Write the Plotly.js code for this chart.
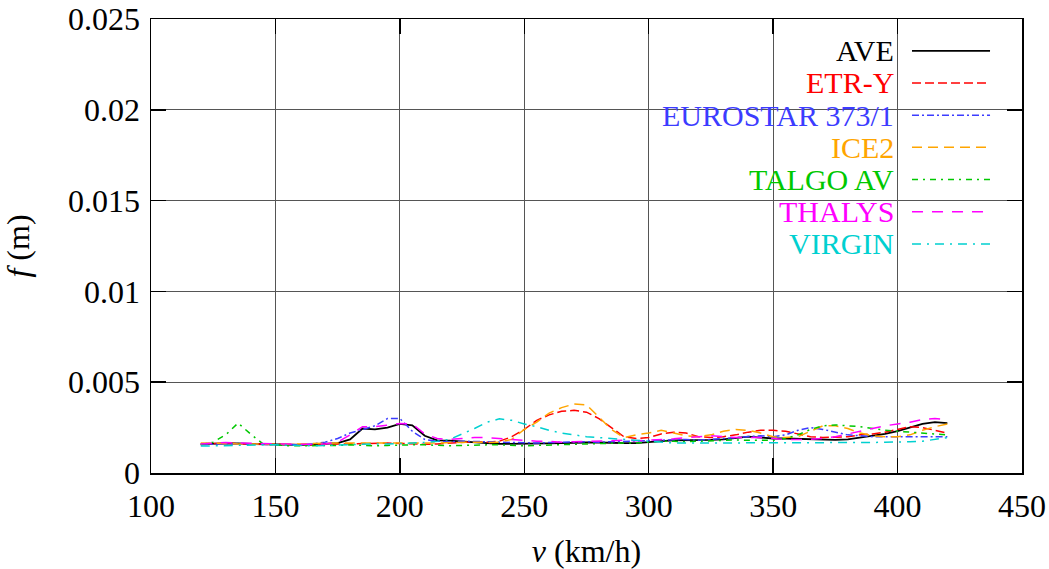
<!DOCTYPE html>
<html>
<head>
<meta charset="utf-8">
<script src="https://cdn.plot.ly/plotly-3.0.1.min.js"></script>
<style>
html,body{margin:0;padding:0;background:#fff;}
#chart{width:1049px;height:569px;}
</style>
</head>
<body>
<div id="chart"></div>
<script>
// speed values (km/h)
const speeds = [120,125,130,135,140,145,150,155,160,165,170,175,180,185,190,195,200,205,210,215,220,225,230,235,240,245,250,255,260,265,270,275,280,285,290,295,300,305,310,315,320,325,330,335,340,345,350,355,360,365,370,375,380,385,390,395,400,405,410,415,420];

const seriesNames = ["AVE","ETR-Y","EUROSTAR 373/1","ICE2","TALGO AV","THALYS","VIRGIN"];

const ave = [0.00160,0.00162,0.00165,0.00163,0.00160,0.00158,0.00158,0.00155,0.00155,0.00157,0.00160,0.00165,0.00185,0.00245,0.00240,0.00250,0.00270,0.00262,0.00205,0.00180,0.00178,0.00175,0.00170,0.00165,0.00160,0.00160,0.00160,0.00162,0.00163,0.00165,0.00168,0.00168,0.00168,0.00165,0.00165,0.00165,0.00168,0.00175,0.00180,0.00180,0.00180,0.00182,0.00185,0.00192,0.00200,0.00195,0.00190,0.00190,0.00188,0.00185,0.00183,0.00182,0.00185,0.00195,0.00205,0.00215,0.00230,0.00250,0.00270,0.00280,0.00275];

const etrY = [0.00160,0.00163,0.00165,0.00162,0.00158,0.00160,0.00158,0.00155,0.00155,0.00155,0.00158,0.00160,0.00162,0.00163,0.00165,0.00165,0.00163,0.00160,0.00158,0.00160,0.00165,0.00170,0.00172,0.00170,0.00175,0.00200,0.00240,0.00290,0.00320,0.00340,0.00345,0.00335,0.00300,0.00250,0.00200,0.00190,0.00195,0.00215,0.00225,0.00220,0.00200,0.00195,0.00200,0.00210,0.00225,0.00235,0.00235,0.00230,0.00215,0.00200,0.00195,0.00198,0.00200,0.00210,0.00215,0.00225,0.00240,0.00255,0.00250,0.00235,0.00220];

const eurostar = [0.00155,0.00160,0.00162,0.00160,0.00158,0.00158,0.00155,0.00155,0.00155,0.00160,0.00170,0.00190,0.00220,0.00240,0.00260,0.00300,0.00300,0.00230,0.00185,0.00175,0.00172,0.00175,0.00175,0.00172,0.00170,0.00168,0.00165,0.00165,0.00168,0.00170,0.00172,0.00172,0.00170,0.00172,0.00175,0.00180,0.00180,0.00180,0.00185,0.00185,0.00180,0.00185,0.00190,0.00195,0.00200,0.00205,0.00200,0.00210,0.00235,0.00250,0.00240,0.00225,0.00210,0.00205,0.00200,0.00200,0.00200,0.00200,0.00200,0.00200,0.00200];

const ice2 = [0.00165,0.00165,0.00163,0.00160,0.00162,0.00160,0.00158,0.00160,0.00160,0.00160,0.00162,0.00165,0.00165,0.00165,0.00163,0.00162,0.00162,0.00165,0.00165,0.00165,0.00168,0.00170,0.00170,0.00168,0.00170,0.00185,0.00240,0.00280,0.00330,0.00360,0.00380,0.00375,0.00310,0.00240,0.00195,0.00210,0.00220,0.00235,0.00220,0.00205,0.00200,0.00210,0.00230,0.00240,0.00235,0.00220,0.00200,0.00195,0.00200,0.00230,0.00260,0.00260,0.00245,0.00220,0.00205,0.00200,0.00200,0.00210,0.00235,0.00255,0.00270];

const talgo = [0.00155,0.00170,0.00210,0.00275,0.00215,0.00160,0.00155,0.00150,0.00150,0.00150,0.00150,0.00152,0.00155,0.00152,0.00150,0.00152,0.00155,0.00155,0.00155,0.00152,0.00150,0.00152,0.00155,0.00155,0.00155,0.00152,0.00150,0.00152,0.00155,0.00158,0.00160,0.00160,0.00162,0.00165,0.00165,0.00165,0.00170,0.00175,0.00175,0.00172,0.00175,0.00178,0.00180,0.00182,0.00180,0.00178,0.00180,0.00190,0.00210,0.00240,0.00260,0.00265,0.00260,0.00255,0.00245,0.00235,0.00230,0.00225,0.00220,0.00215,0.00210];

const thalys = [0.00160,0.00165,0.00168,0.00165,0.00162,0.00160,0.00160,0.00160,0.00158,0.00158,0.00160,0.00170,0.00210,0.00255,0.00255,0.00265,0.00272,0.00270,0.00215,0.00190,0.00185,0.00190,0.00195,0.00195,0.00190,0.00185,0.00180,0.00175,0.00175,0.00170,0.00172,0.00175,0.00178,0.00180,0.00180,0.00178,0.00180,0.00185,0.00188,0.00195,0.00200,0.00205,0.00200,0.00195,0.00195,0.00195,0.00190,0.00185,0.00185,0.00185,0.00190,0.00200,0.00215,0.00230,0.00245,0.00260,0.00270,0.00280,0.00295,0.00300,0.00295];

const virgin = [0.00148,0.00150,0.00152,0.00150,0.00152,0.00155,0.00155,0.00152,0.00150,0.00150,0.00152,0.00155,0.00158,0.00158,0.00160,0.00160,0.00162,0.00165,0.00168,0.00175,0.00185,0.00215,0.00245,0.00280,0.00298,0.00290,0.00270,0.00255,0.00235,0.00220,0.00210,0.00200,0.00195,0.00190,0.00185,0.00180,0.00175,0.00170,0.00165,0.00165,0.00165,0.00165,0.00165,0.00165,0.00165,0.00165,0.00165,0.00165,0.00165,0.00165,0.00165,0.00165,0.00165,0.00165,0.00168,0.00170,0.00170,0.00172,0.00175,0.00185,0.00195];

const xTickVals = [100,150,200,250,300,350,400,450];
const xTickText = ["100","150","200","250","300","350","400","450"];
const yTickVals = [0,0.005,0.01,0.015,0.02,0.025];
const yTickText = ["0","0.005","0.01","0.015","0.02","0.025"];

const allSeries = [ave, etrY, eurostar, ice2, talgo, thalys, virgin];
const colors = ["#000000","#ff0000","#3c3cff","#ffa500","#00c800","#ff00ff","#00d0d0"];
const dashes = ["solid","9px,4px","7px,3px,2px,3px","10px,6px","6px,5px,2px,5px","11px,9px","9px,6px,2px,6px"];
const widths = [1.8,1.5,1.5,1.5,1.5,1.5,1.5];

const FONT = "Liberation Serif, Times New Roman, serif";
const FS = 32;
const KEYFS = 30;

const traces = allSeries.map((ys, i) => ({
  type: "scatter",
  mode: "lines",
  x: speeds,
  y: ys,
  name: seriesNames[i],
  showlegend: false,
  line: {color: colors[i], width: widths[i], dash: dashes[i]},
  hoverinfo: "x+y+name"
}));

// key (legend) drawn at right: text right-aligned, sample line to the right
const keyTextX = 0.8542, keyLineX0 = 0.8737, keyLineX1 = 0.9633;
const keyTopY = 0.930, keyStep = 0.0709;

const annotations = seriesNames.map((n, i) => ({
  xref: "paper", yref: "paper",
  x: keyTextX, y: keyTopY - i * keyStep,
  xanchor: "right", yanchor: "middle",
  text: n, showarrow: false, borderpad: 0,
  font: {family: FONT, size: KEYFS, color: colors[i]}
}));

const shapes = [{
  type: "rect", xref: "paper", yref: "paper",
  x0: 0.6005, x1: 1, y0: 0.4736, y1: 1,
  fillcolor: "#ffffff", line: {width: 0}, layer: "between"
}].concat(seriesNames.map((n, i) => ({
  type: "line", xref: "paper", yref: "paper",
  x0: keyLineX0, x1: keyLineX1,
  y0: keyTopY - i * keyStep, y1: keyTopY - i * keyStep,
  line: {color: colors[i], width: widths[i], dash: dashes[i]},
  layer: "above"
})));

const layout = {
  width: 1049, height: 569,
  margin: {l: 151, r: 27, t: 19, b: 96},
  paper_bgcolor: "#ffffff",
  plot_bgcolor: "#ffffff",
  font: {family: FONT, size: FS, color: "#000"},
  showlegend: false,
  xaxis: {
    range: [100, 450],
    tickmode: "array", tickvals: xTickVals, ticktext: xTickText,
    ticks: "inside", ticklen: 15, tickwidth: 1.5, tickcolor: "#000",
    ticklabelstandoff: 4,
    showline: true, linecolor: "#000", linewidth: 1.5, mirror: "allticks",
    showgrid: true, gridcolor: "#555", gridwidth: 1,
    zeroline: false,
    tickfont: {family: FONT, size: FS, color: "#000"},
    title: {text: "<i>v</i> (km/h)", font: {family: FONT, size: FS, color: "#000"}, standoff: 16}
  },
  yaxis: {
    range: [0, 0.025],
    tickmode: "array", tickvals: yTickVals, ticktext: yTickText,
    ticks: "inside", ticklen: 15, tickwidth: 1.5, tickcolor: "#000",
    ticklabelstandoff: 3,
    showline: true, linecolor: "#000", linewidth: 1.5, mirror: "allticks",
    showgrid: true, gridcolor: "#555", gridwidth: 1,
    zeroline: false,
    tickfont: {family: FONT, size: FS, color: "#000"},
    title: {text: "<i>f</i> (m)", font: {family: FONT, size: FS, color: "#000"}, standoff: 34}
  },
  annotations: annotations,
  shapes: shapes
};

Plotly.newPlot("chart", traces, layout, {displayModeBar: false, staticPlot: true});
</script>
</body>
</html>
